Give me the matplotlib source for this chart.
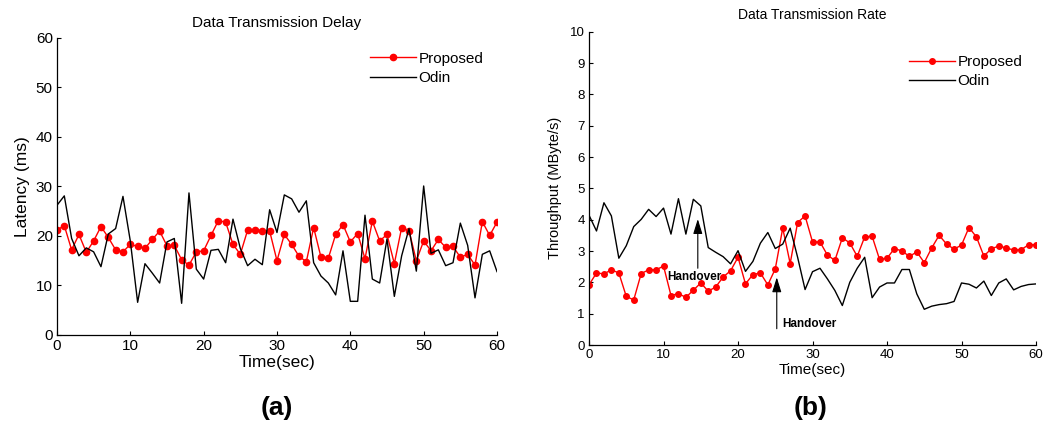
import numpy as np
import matplotlib
matplotlib.use('Agg')
import matplotlib.pyplot as plt

plt.rcParams['font.family'] = ['Liberation Sans', 'DejaVu Sans']

# time axis, one sample per second
t = np.arange(0, 61)

# (a) latency in ms
proposed_delay = [21.2, 22.1, 17.2, 20.3, 16.7, 19.0, 21.9, 19.7, 17.2, 16.8, 18.3,
                  17.9, 17.5, 19.3, 21.0, 18.0, 18.1, 15.2, 14.1, 16.8, 17.0,
                  20.1, 23.1, 22.8, 18.3, 16.3, 21.2, 21.2, 21.1, 21.0, 15.0,
                  20.3, 18.3, 15.9, 14.8, 21.7, 15.7, 15.5, 20.3, 22.3, 18.8,
                  20.5, 15.4, 23.0, 19.0, 20.3, 14.4, 21.7, 21.1, 15.0, 19.0,
                  17.0, 19.3, 17.7, 17.9, 15.7, 16.3, 14.1, 22.9, 20.1, 22.8]
odin_delay = [26.2, 28.1, 19.5, 16.0, 17.6, 16.8, 13.8, 20.4, 21.5, 28.0, 19.0,
              6.6, 14.4, 12.5, 10.5, 18.8, 19.5, 6.4, 28.7, 13.3, 11.3,
              17.1, 17.3, 14.6, 23.4, 17.5, 14.0, 15.3, 14.2, 25.3, 20.7,
              28.3, 27.5, 24.8, 27.1, 14.6, 11.9, 10.5, 8.1, 17.0, 6.8,
              6.8, 24.2, 11.3, 10.5, 19.4, 7.8, 16.0, 21.5, 12.9, 30.1,
              16.5, 17.2, 14.0, 14.6, 22.6, 18.1, 7.5, 16.3, 17.0, 12.8]

# (b) throughput in MByte/s
proposed_rate = [1.92, 2.30, 2.27, 2.40, 2.30, 1.55, 1.44, 2.28, 2.40, 2.40, 2.52,
                 1.58, 1.64, 1.52, 1.75, 1.98, 1.72, 1.85, 2.17, 2.37, 2.80,
                 1.95, 2.25, 2.30, 1.92, 2.43, 3.73, 2.60, 3.91, 4.12, 3.29,
                 3.29, 2.87, 2.70, 3.42, 3.26, 2.83, 3.45, 3.47, 2.73, 2.77,
                 3.08, 3.00, 2.83, 2.97, 2.63, 3.10, 3.50, 3.22, 3.06, 3.19,
                 3.75, 3.45, 2.84, 3.07, 3.16, 3.10, 3.03, 3.04, 3.20, 3.20]
odin_rate = [4.14, 3.64, 4.54, 4.12, 2.77, 3.17, 3.78, 4.01, 4.33, 4.10, 4.37,
             3.54, 4.67, 3.54, 4.65, 4.44, 3.11, 2.96, 2.82, 2.59, 3.01,
             2.35, 2.67, 3.25, 3.59, 3.08, 3.22, 3.73, 2.80, 1.77, 2.34,
             2.45, 2.11, 1.74, 1.26, 2.00, 2.45, 2.80, 1.51, 1.85, 1.98,
             1.98, 2.41, 2.41, 1.63, 1.14, 1.24, 1.29, 1.32, 1.39, 1.98,
             1.94, 1.82, 2.04, 1.58, 1.98, 2.11, 1.76, 1.87, 1.93, 1.95]

# handover events: (arrow x, arrow tip y, arrow tail y, text x, text y)
handovers = [(14.6, 4.02, 2.45, 10.5, 2.16),
             (25.2, 2.16, 0.52, 26.0, 0.66)]


def matlab_style(ax, fs):
    ax.spines['top'].set_visible(False)
    ax.spines['right'].set_visible(False)
    ax.tick_params(direction='in', length=3, labelsize=fs, pad=3, width=0.8)
    for s in ['left', 'bottom']:
        ax.spines[s].set_linewidth(0.9)


fig = plt.figure(figsize=(10.47, 4.21), dpi=100)

# %% (a) delay
ax1 = fig.add_axes([0.0544, 0.2043, 0.4203, 0.7055])
ax1.plot(t, proposed_delay, '-o', color='red', lw=1, ms=4.5, label='Proposed')
ax1.plot(t, odin_delay, '-', color='black', lw=1, label='Odin')
ax1.set_xlim(0, 60)
ax1.set_ylim(0, 60)
ax1.set_xticks(range(0, 61, 10))
ax1.set_yticks(range(0, 61, 10))
matlab_style(ax1, 11)
ax1.set_title('Data Transmission Delay', fontsize=11, pad=8)
ax1.set_xlabel('Time(sec)', fontsize=12.5, labelpad=1)
ax1.set_ylabel('Latency (ms)', fontsize=12.5, labelpad=4)
ax1.legend(loc='upper right', bbox_to_anchor=(1.0, 1.0), frameon=False,
           fontsize=11, handlelength=3.0, handletextpad=0.15, labelspacing=0.35)
fig.text(0.2646, 0.015, '(a)', fontsize=19, fontweight='bold', ha='center')

# %% (b) rate
ax2 = fig.add_axes([0.5626, 0.1805, 0.4269, 0.7442])
ax2.plot(t, proposed_rate, '-o', color='red', lw=1, ms=4, label='Proposed')
ax2.plot(t, odin_rate, '-', color='black', lw=1, label='Odin')
ax2.set_xlim(0, 60)
ax2.set_ylim(0, 10)
ax2.set_xticks(range(0, 61, 10))
ax2.set_yticks(range(0, 11))
matlab_style(ax2, 9.5)
ax2.set_title('Data Transmission Rate', fontsize=10, pad=9)
ax2.set_xlabel('Time(sec)', fontsize=11, labelpad=1)
ax2.set_ylabel('Throughput (MByte/s)', fontsize=10.5, labelpad=6)
ax2.legend(loc='upper right', bbox_to_anchor=(1.0, 0.97), frameon=False,
           fontsize=11, handlelength=3.0, handletextpad=0.15, labelspacing=0.35)
for hx, tip, tail, tx, ty in handovers:
    ax2.annotate('', xy=(hx, tip), xytext=(hx, tail),
                 arrowprops=dict(arrowstyle='-|>,head_length=0.9,head_width=0.28',
                                 color='black', lw=0.8, shrinkA=0, shrinkB=0))
    ax2.text(tx, ty, 'Handover', fontsize=8.5, fontweight='bold', va='center', ha='left')
fig.text(0.7745, 0.015, '(b)', fontsize=19, fontweight='bold', ha='center')

plt.savefig('out.png', dpi=100)
